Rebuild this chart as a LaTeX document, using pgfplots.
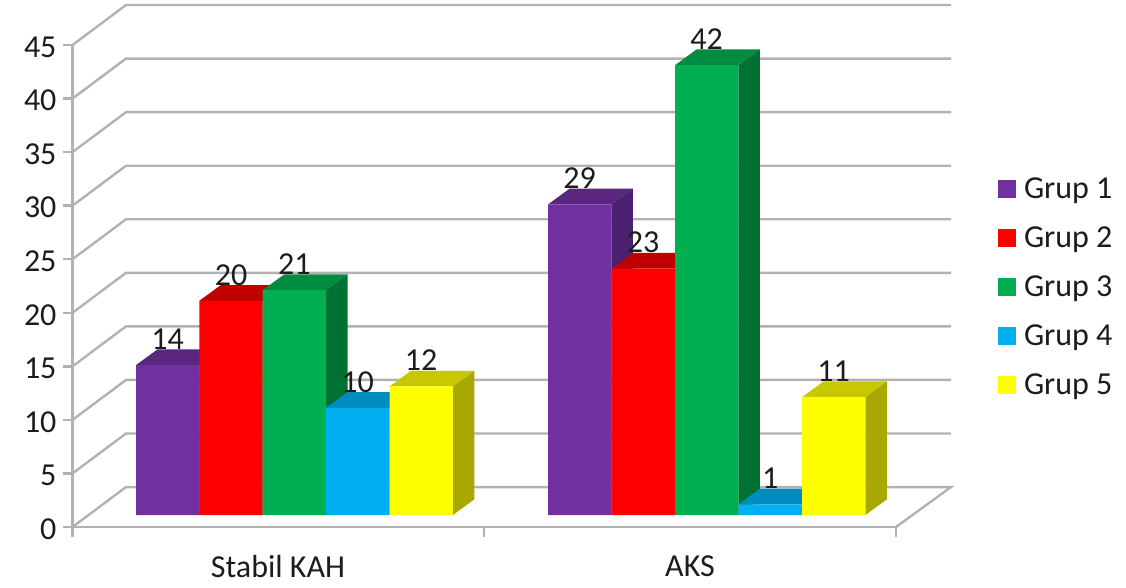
\documentclass[border=0pt]{standalone}
\usepackage{fontspec}
\setmainfont{Carlito}
\usepackage{pgfplots}
\pgfplotsset{compat=1.18}

\definecolor{wallgray}{HTML}{B2B2B2}
\definecolor{inkgray}{HTML}{1C1C1C}
\definecolor{grupA}{HTML}{7030A0}
\definecolor{grupAtop}{HTML}{592680}
\definecolor{grupAside}{HTML}{4A2070}
\definecolor{grupB}{HTML}{FF0000}
\definecolor{grupBtop}{HTML}{C00000}
\definecolor{grupBside}{HTML}{A80000}
\definecolor{grupC}{HTML}{00B050}
\definecolor{grupCtop}{HTML}{008C40}
\definecolor{grupCside}{HTML}{007033}
\definecolor{grupD}{HTML}{00B0F0}
\definecolor{grupDtop}{HTML}{008CBF}
\definecolor{grupDside}{HTML}{0070A0}
\definecolor{grupE}{HTML}{FFFF00}
\definecolor{grupEtop}{HTML}{C8C800}
\definecolor{grupEside}{HTML}{A8A800}

\newcommand{\chartfont}{\fontsize{24}{24}\selectfont}

% Receding top and side faces of one bar: left edge, value, colour name.
% The bars are 63.4 wide, the depth is 21.5 across and 1.466 value units up.
\newcommand{\barfaces}[3]{%
  \pgfmathsetmacro{\xr}{#1+63.4}%
  \pgfmathsetmacro{\xb}{#1+21.5}%
  \pgfmathsetmacro{\xc}{#1+63.4+21.5}%
  \pgfmathsetmacro{\yb}{#2+1.466}%
  \addplot[sharp plot, fill=#3top, draw=none, forget plot]
    coordinates {(#1,#2) (\xr,#2) (\xc,\yb) (\xb,\yb)} -- cycle;
  \addplot[sharp plot, fill=#3side, draw=none, forget plot]
    coordinates {(\xr,0) (\xr,#2) (\xc,\yb) (\xc,1.466)} -- cycle;
}

\pgfplotsset{
  front bar/.style={
    ybar, draw=none, fill=#1,
    nodes near coords={\pgfmathprintnumber\pgfplotspointmeta},
    nodes near coords align={anchor=base},
    every node near coord/.append style={font=\chartfont, text=inkgray,
      yshift=11.8pt, inner sep=0pt},
  },
}

\begin{document}
\begin{tikzpicture}[x=1pt,y=1pt]
\useasboundingbox (0,0) rectangle (844.5,440.25);

% Value axis, category axis and the grid lines running over side and back wall.
\begin{axis}[
  at={(54.375pt,45pt)}, anchor=south west,
  scale only axis, width=617.625pt, height=361.5pt,
  xmin=72.5, xmax=896, ymin=0, ymax=45,
  clip=false,
  axis x line*=bottom, axis y line*=left,
  axis line style={wallgray, line width=1.8pt},
  tick style={wallgray, line width=1.8pt},
  tick align=outside,
  major tick length=7.5pt, minor tick length=7.5pt,
  ytick={0,5,...,45},
  xtick={278,690},
  xticklabels={Stabil KAH,AKS},
  minor xtick={72.5,484,896},
  major x tick style={draw=none},
  tick label style={font=\chartfont, text=inkgray},
  xticklabel style={yshift=-10.5pt},
  yticklabel style={xshift=-1pt, yshift=-1.5pt},
  /pgf/number format/assume math mode=true,
]
\addplot[wallgray, line width=1.8pt] coordinates {(896,0) (951,3.73) (126,3.73) (72.5,0)};
\addplot[wallgray, line width=1.8pt] coordinates {(72.5,5) (126,8.73) (951,8.73)};
\addplot[wallgray, line width=1.8pt] coordinates {(72.5,10) (126,13.73) (951,13.73)};
\addplot[wallgray, line width=1.8pt] coordinates {(72.5,15) (126,18.73) (951,18.73)};
\addplot[wallgray, line width=1.8pt] coordinates {(72.5,20) (126,23.73) (951,23.73)};
\addplot[wallgray, line width=1.8pt] coordinates {(72.5,25) (126,28.73) (951,28.73)};
\addplot[wallgray, line width=1.8pt] coordinates {(72.5,30) (126,33.73) (951,33.73)};
\addplot[wallgray, line width=1.8pt] coordinates {(72.5,35) (126,38.73) (951,38.73)};
\addplot[wallgray, line width=1.8pt] coordinates {(72.5,40) (126,43.73) (951,43.73)};
\addplot[wallgray, line width=1.8pt] coordinates {(72.5,45) (126,48.73) (951,48.73)};
\end{axis}

% Bars: x runs over the width of the chart, y is the value on the bars' front plane.
\begin{axis}[
  at={(0pt,0pt)}, anchor=south west,
  scale only axis, width=844.5pt, height=440.25pt,
  xmin=0, xmax=1126, ymin=-6.723, ymax=48.086,
  hide axis, clip=false,
  bar width=63.4, bar shift=0pt,
  /pgf/number format/assume math mode=true,
  legend style={at={(axis cs:998,31.76)}, anchor=north west, draw=none, fill=none,
    font=\chartfont, text=inkgray, inner sep=0pt, outer sep=0pt,
    row sep=15.75pt, /tikz/every odd column/.append style={column sep=3.75pt},
    cells={anchor=west}},
  legend image code/.code={%
    \path[#1, draw=none] (0pt,-6.75pt) rectangle (13.75pt,6.75pt);},
]
\barfaces{136}{14}{grupA}
\barfaces{548}{29}{grupA}
\addplot[front bar=grupA] coordinates {(167.7,14) (579.7,29)};
\addlegendentry{Grup 1}

\barfaces{199.3}{20}{grupB}
\barfaces{611.5}{23}{grupB}
\addplot[front bar=grupB] coordinates {(231,20) (643.2,23)};
\addlegendentry{Grup 2}

\barfaces{262.7}{21}{grupC}
\barfaces{675}{42}{grupC}
\addplot[front bar=grupC] coordinates {(294.4,21) (706.7,42)};
\addlegendentry{Grup 3}

\barfaces{326}{10}{grupD}
\barfaces{738.5}{1}{grupD}
\addplot[front bar=grupD] coordinates {(357.7,10) (770.2,1)};
\addlegendentry{Grup 4}

\barfaces{389.5}{12}{grupE}
\barfaces{802}{11}{grupE}
\addplot[front bar=grupE] coordinates {(421.2,12) (833.7,11)};
\addlegendentry{Grup 5}
\end{axis}
\end{tikzpicture}
\end{document}
